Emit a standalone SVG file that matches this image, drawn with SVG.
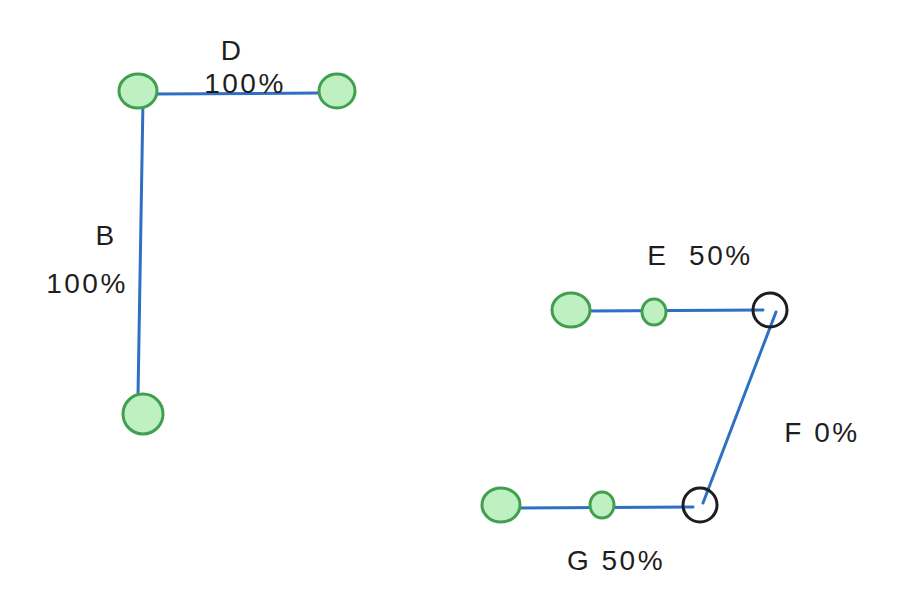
<svg xmlns="http://www.w3.org/2000/svg" width="914" height="596" viewBox="0 0 914 596">
<style>
.g{fill:#bff0c2;stroke:#40a04f;stroke-width:3}
.k{fill:none;stroke:#1e1e1e;stroke-width:3}
.e{stroke:#2f6fc4;stroke-width:3;fill:none;stroke-linecap:round}
text{font-family:"Liberation Sans","DejaVu Sans",sans-serif;font-size:28px;fill:#1e1e1e;text-anchor:middle;letter-spacing:2.5px}
</style>
<rect width="914" height="596" fill="#ffffff"/>
<g id="edges">
<path class="e" d="M155 94 L320 93"/>
<path class="e" d="M143 100 L138 396"/>
<path class="e" d="M588 311 L763 310"/>
<path class="e" d="M776 312 L703 503"/>
<path class="e" d="M517 508 L693 507"/>
</g>
<g id="n1"><ellipse class="g" cx="138" cy="91" rx="19" ry="17"/></g>
<g id="n2"><ellipse class="g" cx="337" cy="91" rx="18" ry="17"/></g>
<g id="n3"><ellipse class="g" cx="143" cy="414" rx="20" ry="20"/></g>
<g id="n4"><ellipse class="g" cx="571" cy="310" rx="19" ry="17"/></g>
<g id="n5"><ellipse class="g" cx="654" cy="312" rx="12" ry="13"/></g>
<g id="n6"><circle class="k" cx="770" cy="310" r="17"/></g>
<g id="n7"><ellipse class="g" cx="501" cy="505" rx="19" ry="17"/></g>
<g id="n8"><ellipse class="g" cx="602" cy="505" rx="12" ry="13"/></g>
<g id="n9"><circle class="k" cx="700" cy="505" r="17"/></g>
<g id="labels">
<text x="232" y="60">D</text>
<text x="245" y="93">100%</text>
<text x="106" y="245">B</text>
<text x="87" y="293">100%</text>
<text x="700" y="265" xml:space="preserve">E  50%</text>
<text x="822" y="442">F 0%</text>
<text x="616" y="570">G 50%</text>
</g>
</svg>
